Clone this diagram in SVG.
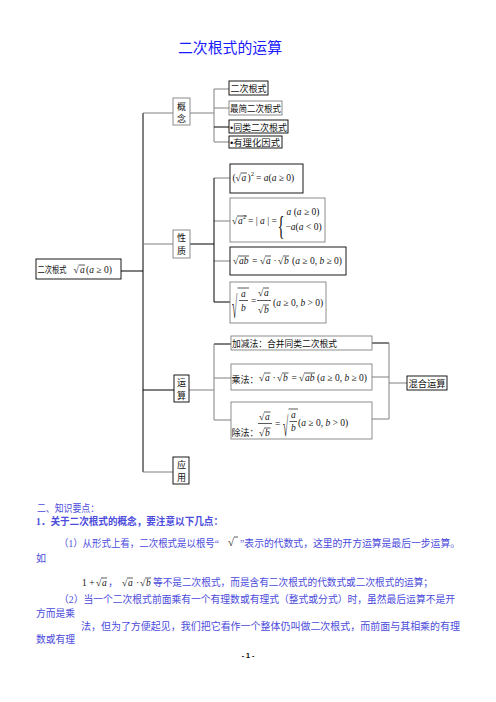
<svg xmlns="http://www.w3.org/2000/svg" width="496" height="702" viewBox="0 0 496 702">
<style>
.bk{fill:none;stroke:#000;stroke-width:1}
.gr{fill:none;stroke:#808080;stroke-width:1}
.bx{fill:#fff;stroke:#000;stroke-width:0.9}
.bg{fill:#fff;stroke:#808080;stroke-width:0.9}
.cn{font-family:"Liberation Sans","Noto Sans CJK SC",sans-serif;font-size:9px;fill:#111}
.m{font-family:"Liberation Serif","DejaVu Serif",serif;font-size:9.5px;fill:#111}
.sup{font-size:6px}
.i{font-style:italic}
.ov{stroke:#111;stroke-width:0.7}
.body{font-family:"Liberation Serif","Noto Sans CJK SC",serif;font-size:10px;fill:#4b4bdc}
</style>
<rect width="496" height="702" fill="#fff"/>
<text x="178" y="53" font-family="'Liberation Sans','Noto Sans CJK SC',sans-serif" font-size="14.5" fill="#1a1aff" textLength="104" lengthAdjust="spacingAndGlyphs">二次根式的运算</text>

<g id="connectors">
<path class="bk" d="M121,271H143M143,113V472"/>
<path class="gr" d="M143,113H173M190,113H214M214,89V142M214,89H229M214,108H229M214,142H229"/>
<path class="bk" d="M214,127H229"/>
<path class="gr" d="M143,244H173M214,178H230M214,221H230M214,261H230"/>
<path class="bk" d="M190,244H214M214,178V302M214,302H230"/>
<path class="bk" d="M143,390H174M214,344H231M372,343H389"/>
<path class="gr" d="M189,390H214M214,344V420M214,378H231M214,420H231M372,377H389M372,419H389M389,343V419M389,383H407"/>
<path class="gr" d="M143,472H173"/>
</g>

<g id="root">
<rect class="bx" x="36" y="259" width="85" height="20"/>
<text class="cn" x="37.5" y="273" textLength="29" lengthAdjust="spacingAndGlyphs">二次根式</text>
<text class="m" x="73.5" y="273">√</text><line class="ov" x1="78.5" y1="265" x2="85" y2="265"/>
<text class="m i" x="80" y="273">a</text>
<text class="m" x="86" y="273">(<tspan class="i">a</tspan> ≥ 0)</text>
</g>

<g id="gainian">
<rect class="bg" x="173" y="98" width="17" height="27"/>
<text class="cn" x="177" y="110">概</text><text class="cn" x="177" y="122">念</text>
</g>
<g id="g1"><rect class="bx" x="229" y="81" width="39" height="14"/><text class="cn" x="230.5" y="92" textLength="36" lengthAdjust="spacingAndGlyphs">二次根式</text></g>
<g id="g2"><rect class="bg" x="229" y="101" width="53" height="14"/><text class="cn" x="230" y="112" textLength="51" lengthAdjust="spacingAndGlyphs">最简二次根式</text></g>
<g id="g3"><rect class="bx" x="229" y="120" width="59" height="13"/><text class="cn" x="230" y="130.5" textLength="57" lengthAdjust="spacingAndGlyphs">•同类二次根式</text></g>
<g id="g4"><rect class="bx" x="229" y="136" width="53" height="12"/><text class="cn" x="230" y="146" textLength="50" lengthAdjust="spacingAndGlyphs">•有理化因式</text></g>

<g id="xingzhi">
<rect class="bg" x="173" y="230" width="17" height="28"/>
<text class="cn" x="177" y="241">性</text><text class="cn" x="177" y="254">质</text>
</g>
<g id="p1">
<rect class="bx" x="230" y="164" width="73" height="29"/>
<text class="m" x="232.5" y="181">(</text>
<text class="m" x="235.5" y="181">√</text><line class="ov" x1="240.5" y1="173" x2="247" y2="173"/>
<text class="m i" x="241.5" y="181">a</text>
<text class="m" x="247.5" y="181">)</text>
<text class="m sup" x="251" y="176">2</text>
<text class="m" x="256" y="181">= <tspan class="i">a</tspan>(<tspan class="i">a</tspan> ≥ 0)</text>
</g>
<g id="p2">
<rect class="bg" x="230" y="198" width="95" height="44"/>
<text class="m" x="232" y="224">√</text><line class="ov" x1="237" y1="216" x2="247" y2="216"/>
<text class="m i" x="238" y="224">a</text>
<text class="m sup" x="243" y="219">2</text>
<text class="m" x="248" y="224">= | <tspan class="i">a</tspan> | =</text>
<text class="m" x="277.5" y="235" style="font-size:27px" transform="translate(277.5,235) scale(0.55,1) translate(-277.5,-235)">{</text>
<text class="m" x="286.5" y="215"><tspan class="i">a</tspan> (<tspan class="i">a</tspan> ≥ 0)</text>
<text class="m" x="285.5" y="230">−<tspan class="i">a</tspan>(<tspan class="i">a</tspan> &lt; 0)</text>
</g>
<g id="p3">
<rect class="bx" x="230" y="247" width="116" height="28"/>
<text class="m" x="233" y="264">√</text><line class="ov" x1="238" y1="256" x2="249" y2="256"/>
<text class="m i" x="239" y="264">ab</text>
<text class="m" x="252" y="264">=</text>
<text class="m" x="260" y="264">√</text><line class="ov" x1="265" y1="256" x2="271" y2="256"/>
<text class="m i" x="266" y="264">a</text>
<text class="m" x="273.5" y="264">·</text>
<text class="m" x="278" y="264">√</text><line class="ov" x1="283" y1="256" x2="289" y2="256"/>
<text class="m i" x="284" y="264">b</text>
<text class="m" x="292" y="264">(<tspan class="i">a</tspan> ≥ 0, <tspan class="i">b</tspan> ≥ 0)</text>
</g>
<g id="p4">
<rect class="bg" x="230" y="282" width="96" height="41"/>
<text class="m" x="232" y="318" transform="translate(232,318) scale(1,3.3) translate(-232,-318)">√</text>
<line class="ov" x1="237.5" y1="288" x2="249" y2="288"/>
<text class="m i" x="241" y="297">a</text>
<line class="ov" x1="239" y1="300.5" x2="248" y2="300.5"/>
<text class="m i" x="241" y="311">b</text>
<text class="m" x="251" y="304">=</text>
<text class="m" x="258" y="296">√</text><line class="ov" x1="263" y1="288" x2="269" y2="288"/>
<text class="m i" x="264" y="296">a</text>
<line class="ov" x1="257" y1="300.5" x2="271" y2="300.5"/>
<text class="m" x="258" y="313">√</text><line class="ov" x1="263" y1="305" x2="269" y2="305"/>
<text class="m i" x="264" y="313">b</text>
<text class="m" x="273" y="306">(<tspan class="i">a</tspan> ≥ 0, <tspan class="i">b</tspan> &gt; 0)</text>
</g>

<g id="yunsuan">
<rect class="bx" x="174" y="375" width="15" height="27"/>
<text class="cn" x="177" y="386">运</text><text class="cn" x="177" y="399">算</text>
</g>
<g id="o1"><rect class="bg" x="231" y="336" width="141" height="14"/><text class="cn" x="232" y="347" textLength="105" lengthAdjust="spacingAndGlyphs">加减法：合并同类二次根式</text></g>
<g id="o2">
<rect class="bg" x="231" y="364" width="141" height="26"/>
<text class="cn" x="231.5" y="383">乘法：</text>
<text class="m" x="259" y="381">√</text><line class="ov" x1="264" y1="373" x2="270.5" y2="373"/>
<text class="m i" x="265" y="381">a</text>
<text class="m" x="272.5" y="381">·</text>
<text class="m" x="277" y="381">√</text><line class="ov" x1="282" y1="373" x2="288.5" y2="373"/>
<text class="m i" x="283" y="381">b</text>
<text class="m" x="291.5" y="381">=</text>
<text class="m" x="299" y="381">√</text><line class="ov" x1="304" y1="373" x2="315" y2="373"/>
<text class="m i" x="305" y="381">ab</text>
<text class="m" x="317" y="381">(<tspan class="i">a</tspan> ≥ 0, <tspan class="i">b</tspan> ≥ 0)</text>
</g>
<g id="o3">
<rect class="bg" x="231" y="402" width="141" height="37"/>
<text class="cn" x="231.5" y="436">除法：</text>
<text class="m" x="259" y="420">√</text><line class="ov" x1="264" y1="412" x2="270.5" y2="412"/>
<text class="m i" x="265" y="420">a</text>
<line class="ov" x1="258" y1="423.5" x2="272" y2="423.5"/>
<text class="m" x="259" y="436">√</text><line class="ov" x1="264" y1="428" x2="270.5" y2="428"/>
<text class="m i" x="265" y="436">b</text>
<text class="m" x="275" y="427">=</text>
<text class="m" x="283" y="436" transform="translate(283,436) scale(1,2.9) translate(-283,-436)">√</text>
<line class="ov" x1="288.5" y1="409" x2="298" y2="409"/>
<text class="m i" x="291" y="418">a</text>
<line class="ov" x1="289.5" y1="421.5" x2="297" y2="421.5"/>
<text class="m i" x="291" y="431">b</text>
<text class="m" x="298" y="426">(<tspan class="i">a</tspan> ≥ 0, <tspan class="i">b</tspan> &gt; 0)</text>
</g>
<g id="hunhe"><rect class="bx" x="407" y="376" width="40" height="14"/><text class="cn" x="408.5" y="387" textLength="37" lengthAdjust="spacingAndGlyphs">混合运算</text></g>

<g id="yingyong">
<rect class="bx" x="173" y="457" width="16" height="27"/>
<text class="cn" x="177" y="468">应</text><text class="cn" x="177" y="481">用</text>
</g>

<g id="notes">
<text class="body" x="37" y="512" textLength="62" lengthAdjust="spacingAndGlyphs">二、知识要点：</text>
<text class="body" x="36" y="525" font-weight="bold" fill="#2a2ad0" textLength="187" lengthAdjust="spacingAndGlyphs">1．关于二次根式的概念，要注意以下几点：</text>
<text class="body" x="59" y="547" textLength="160" lengthAdjust="spacingAndGlyphs">（1）从形式上看，二次根式是以根号“</text>
<text class="m" x="228" y="546" style="font-size:11px">√</text><line class="ov" x1="234" y1="537" x2="238" y2="537"/>
<text class="body" x="240" y="547" textLength="220" lengthAdjust="spacingAndGlyphs">”表示的代数式，这里的开方运算是最后一步运算。</text>
<text class="body" x="36" y="562">如</text>
<text class="m" x="82" y="586">1 +</text>
<text class="m" x="96" y="586">√</text><line class="ov" x1="101" y1="578" x2="107" y2="578"/>
<text class="m i" x="102" y="586">a</text>
<text class="body" x="108" y="586">，</text>
<text class="m" x="122" y="586">√</text><line class="ov" x1="127" y1="578" x2="133" y2="578"/>
<text class="m i" x="128" y="586">a</text>
<text class="m" x="136" y="586">·</text>
<text class="m" x="140" y="586">√</text><line class="ov" x1="145" y1="578" x2="151" y2="578"/>
<text class="m i" x="146" y="586">b</text>
<text class="body" x="153" y="586" textLength="280" lengthAdjust="spacingAndGlyphs">等不是二次根式，而是含有二次根式的代数式或二次根式的运算；</text>
<text class="body" x="59" y="603" textLength="396" lengthAdjust="spacingAndGlyphs">（2）当一个二次根式前面乘有一个有理数或有理式（整式或分式）时，虽然最后运算不是开</text>
<text class="body" x="36" y="617" textLength="39" lengthAdjust="spacingAndGlyphs">方而是乘</text>
<text class="body" x="81" y="630" textLength="379" lengthAdjust="spacingAndGlyphs">法，但为了方便起见，我们把它看作一个整体仍叫做二次根式，而前面与其相乘的有理</text>
<text class="body" x="36" y="643" textLength="39" lengthAdjust="spacingAndGlyphs">数或有理</text>
<text x="248" y="658" text-anchor="middle" font-family="'Liberation Sans',sans-serif" font-size="7" font-weight="bold" fill="#000">- 1 -</text>
</g>
</svg>
